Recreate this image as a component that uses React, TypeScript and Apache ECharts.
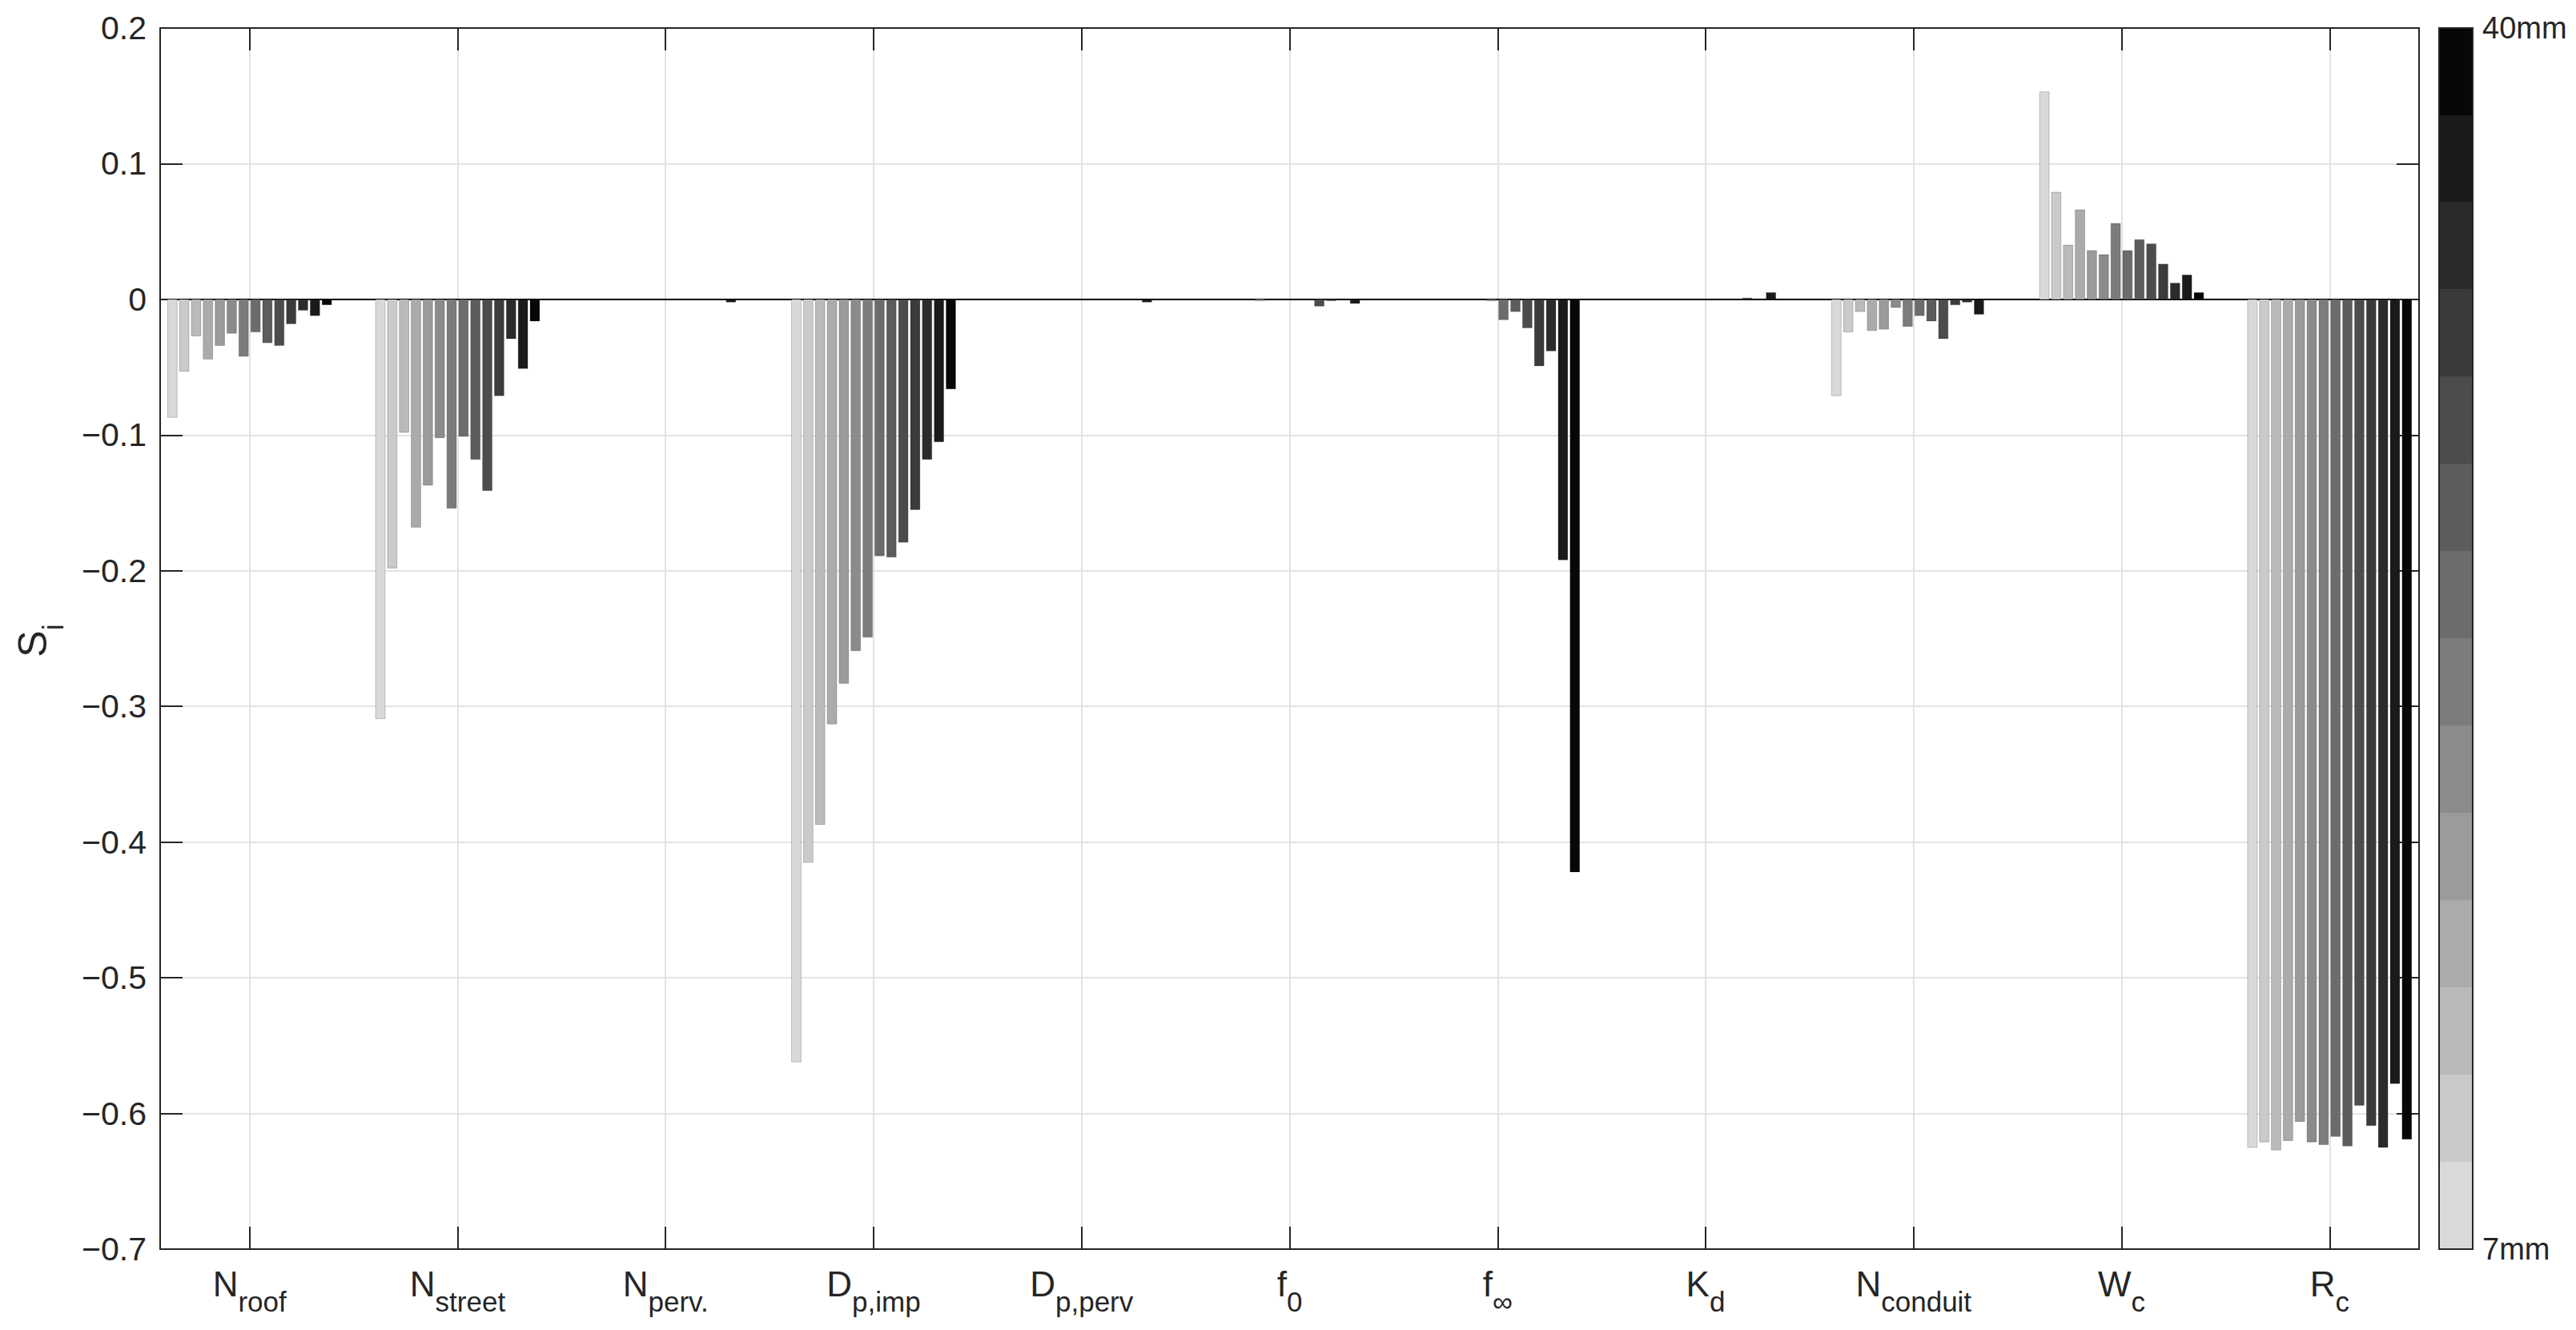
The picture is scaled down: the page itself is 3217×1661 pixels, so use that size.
import React, { useEffect, useRef } from 'react';
import * as echarts from 'echarts';

// Parameters (label main letter + subscript)
const paramMain = ['N', 'N', 'N', 'D', 'D', 'f', 'f', 'K', 'N', 'W', 'R'];
const paramSub = ['roof', 'street', 'perv.', 'p,imp', 'p,perv', '0', '∞', 'd', 'conduit', 'c', 'c'];

// Sensitivity S_i per parameter, one value per rainfall depth level (7mm -> 40mm)
const nRoof = [-0.087, -0.053, -0.027, -0.044, -0.034, -0.025, -0.042, -0.024, -0.032, -0.034, -0.018, -0.008, -0.012, -0.004];
const nStreet = [-0.309, -0.198, -0.098, -0.168, -0.137, -0.102, -0.154, -0.101, -0.118, -0.141, -0.071, -0.029, -0.051, -0.016];
const nPerv = [0, 0, 0, 0, 0, 0, 0, 0, 0, 0, 0, 0, -0.002, 0];
const dpImp = [-0.562, -0.415, -0.387, -0.313, -0.283, -0.259, -0.249, -0.189, -0.19, -0.179, -0.155, -0.118, -0.105, -0.066];
const dpPerv = [0, 0, 0, 0, 0, 0, 0, 0, 0, 0, 0, 0, -0.002, 0];
const f0 = [0, 0, 0, 0, -0.001, 0, 0, 0, 0, -0.005, -0.001, 0, -0.003, 0];
const fInf = [0, 0, 0, 0, 0, 0, -0.001, -0.015, -0.009, -0.021, -0.049, -0.038, -0.192, -0.422];
const kd = [0, 0, 0, 0, 0, 0, 0, 0, 0, 0, 0.001, 0, 0.005, 0];
const nConduit = [-0.071, -0.024, -0.009, -0.023, -0.022, -0.006, -0.02, -0.012, -0.016, -0.029, -0.004, -0.002, -0.011, 0];
const wc = [0.153, 0.079, 0.04, 0.066, 0.036, 0.033, 0.056, 0.036, 0.044, 0.041, 0.026, 0.012, 0.018, 0.005];
const rc = [-0.625, -0.621, -0.627, -0.62, -0.606, -0.621, -0.623, -0.617, -0.624, -0.594, -0.609, -0.625, -0.578, -0.619];

const sensitivity = [nRoof, nStreet, nPerv, dpImp, dpPerv, f0, fInf, kd, nConduit, wc, rc];

// Grey levels (7mm lightest -> 40mm darkest)
const levelColors = ['#d9d9d9', '#cacaca', '#bababa', '#ababab', '#9b9b9b', '#8b8b8b', '#7c7c7c', '#6c6c6c', '#5c5c5c', '#4c4c4c', '#3b3b3b', '#2b2b2b', '#1a1a1a', '#070707'];

const rainMin = 7;
const rainMax = 40;
const yMin = -0.7;
const yMax = 0.2;
const yStep = 0.1;
const xMin = 0.57;
const xMax = 11.43;

const FONT = '"Liberation Sans", Arial, Helvetica, sans-serif';
const INK = '#262626';
const GRID = '#e3e3e3';

export default function App() {
  const ref = useRef<HTMLDivElement>(null);

  useEffect(() => {
    const chart = echarts.init(ref.current as HTMLDivElement, null, { renderer: 'svg' });
    const nLevels = levelColors.length;
    const groupWidth = Math.min(0.8, nLevels / (nLevels + 1.5));
    const barW = (0.8 * groupWidth) / nLevels;

    const barData: number[][] = [];
    sensitivity.forEach((vals, g) => vals.forEach((v, s) => barData.push([g + 1, s, v])));

    const step = (rainMax - rainMin) / nLevels;
    const cbData: number[][] = levelColors.map((_, i) => [rainMin + i * step, rainMin + (i + 1) * step, i]);

    const catValues = paramMain.map((_, i) => i + 1);

    const option: any = {
      animation: false,
      backgroundColor: '#ffffff',
      textStyle: { fontFamily: FONT },
      grid: [
        { left: 200, top: 35, width: 2821, height: 1525, containLabel: false },
        { left: 3046, top: 35, width: 42, height: 1525, containLabel: false },
      ],
      xAxis: [
        {
          gridIndex: 0,
          type: 'value',
          min: xMin,
          max: xMax,
          interval: 1,
          position: 'bottom',
          axisLine: { show: true, onZero: false, lineStyle: { color: INK, width: 2 } },
          axisTick: { show: true, inside: true, length: 28, customValues: catValues, lineStyle: { color: INK, width: 2 } },
          axisLabel: {
            show: true,
            customValues: catValues,
            margin: 21,
            formatter: (v: number) => {
              const i = Math.round(v) - 1;
              if (Math.abs(v - Math.round(v)) > 1e-6 || i < 0 || i >= paramMain.length) return '';
              return `{m|${paramMain[i]}}{s|${paramSub[i]}}`;
            },
            rich: {
              m: { fontSize: 44, lineHeight: 44, verticalAlign: 'top', fontFamily: FONT, color: INK },
              s: { fontSize: 35, lineHeight: 35, padding: [27, 0, 0, 0], verticalAlign: 'top', fontFamily: FONT, color: INK },
            },
          },
          splitLine: { show: true, lineStyle: { color: GRID, width: 2 } },
        },
        {
          gridIndex: 0,
          type: 'value',
          min: xMin,
          max: xMax,
          interval: 1,
          position: 'top',
          axisLine: { show: true, onZero: false, lineStyle: { color: INK, width: 2 } },
          axisTick: { show: true, inside: true, length: 28, customValues: catValues, lineStyle: { color: INK, width: 2 } },
          axisLabel: { show: false },
          splitLine: { show: false },
        },
        {
          gridIndex: 0,
          type: 'value',
          min: xMin,
          max: xMax,
          position: 'bottom',
          axisLine: { show: true, onZero: true, lineStyle: { color: '#000000', width: 2 } },
          axisTick: { show: false },
          axisLabel: { show: false },
          splitLine: { show: false },
        },
        { gridIndex: 1, type: 'value', min: 0, max: 1, show: false },
      ],
      yAxis: [
        {
          gridIndex: 0,
          type: 'value',
          min: yMin,
          max: yMax,
          interval: yStep,
          position: 'left',
          axisLine: { show: true, lineStyle: { color: INK, width: 2 } },
          axisTick: { show: true, inside: true, length: 28, lineStyle: { color: INK, width: 2 } },
          axisLabel: {
            show: true,
            margin: 17,
            fontSize: 41,
            fontFamily: FONT,
            color: INK,
            formatter: (v: number) => {
              const r = Math.round(v * 10) / 10;
              if (Math.abs(r) < 1e-9) return '0';
              return r < 0 ? '\u2212' + Math.abs(r).toFixed(1) : r.toFixed(1);
            },
          },
          splitLine: { show: true, lineStyle: { color: GRID, width: 2 } },
        },
        {
          gridIndex: 0,
          type: 'value',
          min: yMin,
          max: yMax,
          interval: yStep,
          position: 'right',
          axisLine: { show: true, lineStyle: { color: INK, width: 2 } },
          axisTick: { show: true, inside: true, length: 28, lineStyle: { color: INK, width: 2 } },
          axisLabel: { show: false },
          splitLine: { show: false },
        },
        {
          gridIndex: 1,
          type: 'value',
          min: rainMin,
          max: rainMax,
          position: 'right',
          axisLine: { show: false },
          axisTick: { show: false },
          splitLine: { show: false },
          axisLabel: {
            show: true,
            customValues: [rainMin, rainMax],
            margin: 12,
            fontSize: 38,
            fontFamily: FONT,
            color: INK,
            formatter: (v: number) => (v === rainMin || v === rainMax ? `${v}mm` : ''),
          },
        },
      ],
      graphic: [
        {
          type: 'text',
          x: 66,
          y: 800,
          rotation: Math.PI / 2,
          style: {
            text: '{s|S}{i|i}',
            align: 'center',
            verticalAlign: 'bottom',
            fill: INK,
            fontFamily: FONT,
            rich: {
              s: { fontSize: 50, lineHeight: 50, verticalAlign: 'top', fontFamily: FONT, fill: INK },
              i: { fontSize: 36, lineHeight: 36, padding: [32, 0, 0, 0], verticalAlign: 'top', fontFamily: FONT, fill: INK },
            },
          },
        },
      ],
      series: [
        {
          type: 'custom',
          name: 'Si',
          xAxisIndex: 0,
          yAxisIndex: 0,
          data: barData,
          encode: { x: 0, y: 2 },
          z: 3,
          renderItem: (params: any, api: any) => {
            const g = api.value(0);
            const s = api.value(1);
            const v = api.value(2);
            if (!v) return null;
            const xc = g - groupWidth / 2 + ((2 * s + 1) * groupWidth) / (2 * nLevels);
            const p0 = api.coord([xc - barW / 2, 0]);
            const p1 = api.coord([xc + barW / 2, v]);
            return {
              type: 'rect',
              shape: {
                x: p0[0],
                y: Math.min(p0[1], p1[1]),
                width: p1[0] - p0[0],
                height: Math.abs(p1[1] - p0[1]),
              },
              style: { fill: levelColors[s], stroke: 'rgba(0,0,0,0.2)', lineWidth: 1 },
            };
          },
        },
        {
          type: 'custom',
          name: 'colorbar',
          xAxisIndex: 3,
          yAxisIndex: 2,
          data: cbData,
          encode: { y: [0, 1] },
          z: 3,
          renderItem: (params: any, api: any) => {
            const lo = api.value(0);
            const hi = api.value(1);
            const i = api.value(2);
            const a = api.coord([0, hi]);
            const b = api.coord([1, lo]);
            return {
              type: 'rect',
              shape: { x: a[0], y: a[1], width: b[0] - a[0], height: b[1] - a[1] },
              style: { fill: levelColors[i], stroke: levelColors[i], lineWidth: 0.5 },
            };
          },
        },
        {
          type: 'custom',
          name: 'colorbarFrame',
          xAxisIndex: 3,
          yAxisIndex: 2,
          data: [[rainMin, rainMax]],
          encode: { y: [0, 1] },
          z: 4,
          renderItem: (params: any, api: any) => {
            const a = api.coord([0, api.value(1)]);
            const b = api.coord([1, api.value(0)]);
            return {
              type: 'rect',
              shape: { x: a[0], y: a[1], width: b[0] - a[0], height: b[1] - a[1] },
              style: { fill: 'none', stroke: INK, lineWidth: 2 },
            };
          },
        },
      ],
    };

    chart.setOption(option);
    return () => chart.dispose();
  }, []);

  return (
    <div
      ref={ref}
      style={{ position: 'absolute', left: 0, top: 0, width: 3217, height: 1661, background: '#ffffff' }}
    />
  );
}
